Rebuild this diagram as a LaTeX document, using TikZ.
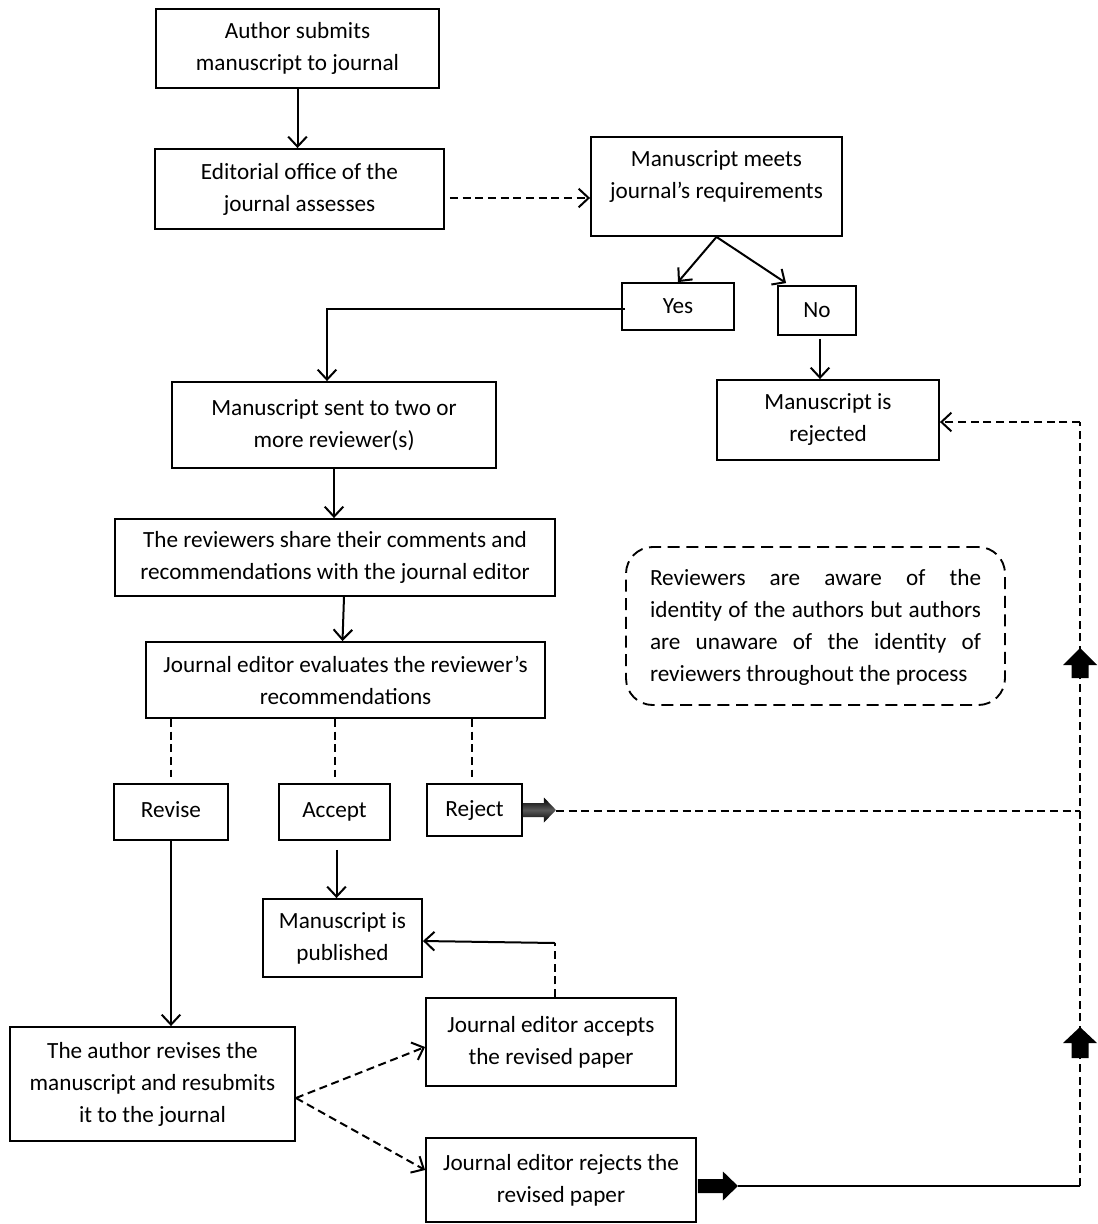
\documentclass[tikz,border=0pt]{standalone}
\usepackage{fontspec}
\setmainfont{Carlito}
\usetikzlibrary{arrows.meta,calc}
\tikzset{
  txt/.style={font=\fontsize{17.4}{24}\selectfont},
  box/.style={draw, line width=1.4pt, rectangle, inner sep=0pt, align=center, txt},
  wh/.style 2 args={minimum width=#1*0.75pt, minimum height=#2*0.75pt},
  arr/.style={line width=1.5pt, -{Straight Barb[length=7.5pt,width=14pt,line width=1.5pt]}},
  darr/.style={arr, dash pattern=on 6pt off 3.5pt},
  dline/.style={line width=1.5pt, dash pattern=on 6pt off 3.5pt},
  sline/.style={line width=1.5pt},
}
\begin{document}
\begin{tikzpicture}[x=0.75pt,y=-0.75pt]
\useasboundingbox (0,0) rectangle (1097,1224);
\fill[white] (0,0) rectangle (1097,1224);
% boxes
\node[box, wh={283}{79}] (a1) at (297.5,48.5) {Author submits\\manuscript to journal};
\node[box, wh={289}{80}] (a2) at (299.5,189) {Editorial office of the\\journal assesses};
\node[box, wh={251}{99}] (a3) at (716.5,186.5) {};
\node[txt, align=center, inner sep=0pt] (a3t) at (716.5,176.5) {Manuscript meets\\journal’s requirements};
\node[box, wh={112}{47}] (yes) at (678,306.5) {Yes};
\node[box, wh={78}{49}] (no) at (817,310.5) {No};
\node[box, wh={324}{86}] (a6) at (334,425) {Manuscript sent to two or\\more reviewer(s)};
\node[box, wh={222}{80}] (rej) at (828,420) {Manuscript is\\rejected};
\node[box, wh={440}{77}] (a8) at (335,557.5) {The reviewers share their comments and\\recommendations with the journal editor};
\node[box, wh={399}{76}] (a9) at (345.5,680) {Journal editor evaluates the reviewer’s\\recommendations};
\node[box, wh={114}{56}] (revise) at (171,812) {\raisebox{3pt}{Revise}};
\node[box, wh={111}{56}] (accept) at (334.5,812) {\raisebox{2pt}{Accept}};
\node[box, wh={95}{52}] (reject) at (474.5,810) {Reject};
\node[box, wh={159}{78}] (pub) at (342.5,938) {Manuscript is\\published};
\node[box, wh={250}{88}] (eacc) at (551,1042) {Journal editor accepts\\the revised paper};
\node[box, wh={285}{114}] (arev) at (152.5,1084) {The author revises the\\manuscript and resubmits\\it to the journal};
\node[box, wh={270}{84}] (erej) at (561,1180) {Journal editor rejects the\\revised paper};
% note
\node[draw, line width=1.4pt, dash pattern=on 9pt off 5pt, rounded corners=20pt,
  wh={379}{158}, inner sep=0pt] (note) at (815.5,626) {};
\node[txt, text width=331*0.75pt, align=justify, inner sep=0pt] (notetext) at (815.5,627)
  {Reviewers are aware of the\linebreak identity of the authors but authors\linebreak are unaware of the identity of\linebreak reviewers throughout the process};
% coordinates
\coordinate (rr) at (1080,811);
\coordinate (rt) at (1080,422);
\coordinate (rb) at (1080,1186);
\coordinate (bend) at (555,943);
% connectors
\draw[arr] (a1.south) -- (a1.south |- a2.north);
\draw[darr] ($(a2.east)+(5,9)$) -- ($(a3.west)+(0,11.5)$);
\draw[arr] (a3.south) -- (yes.north);
\draw[arr] (a3.south) -- ($(no.north west)+(9,-2)$);
\draw[arr] ($(yes.west)+(4,2.5)$) -| ($(a6.north)+(-7,0)$);
\draw[arr] ($(no.south)+(3,3)$) -- ($(no.south |- rej.north)+(3,0)$);
\draw[arr] (a6.south) -- (a6.south |- a8.north);
\draw[arr] ($(a8.south)+(9,0)$) -- ($(a9.north)+(-3,0)$);
\draw[dline, shorten >=4.5pt] (a9.south -| revise.north) -- (revise.north);
\draw[dline, shorten >=4.5pt] (a9.south -| accept.north) -- (accept.north);
\draw[dline, shorten >=4.5pt] ($(a9.south -| reject.north)+(-3,0)$) -- ($(reject.north)+(-3,0)$);
\draw[arr] ($(accept.south)+(2,9)$) -- ($(accept.south |- pub.north)+(2,0)$);
\draw[arr] (revise.south) -- (revise.south |- arev.north);
\draw[dline] (eacc.north -| bend) -- (bend);
\draw[arr] (bend) -- ($(pub.east)+(0,3)$);
\draw[darr] ($(arev.east)+(0,14)$) -- ($(eacc.west)+(0,5)$);
\draw[darr] ($(arev.east)+(0,14)$) -- ($(erej.west)+(0,-10)$);
% right side
\draw[dline] ($(reject.east)+(33,1)$) -- (rr);
\draw[dline] (rb) -- (rt);
\draw[darr] (rt) -- ($(rej.east)+(0,2)$);
\draw[sline] (erej.east |- rb) ++(41,0) -- (rb);
% block arrows
\shade[top color=black, bottom color=black, middle color=black!65]
  ($(reject.east)+(0,-7)$) -- ++(21,0) -- ++(0,-5.5) -- ++(12,12.5) -- ++(-12,12.5) -- ++(0,-5.5) -- ++(-21,0) -- cycle;
\fill[black] ($(erej.east |- rb)+(1,-7)$) -- ++(25,0) -- ++(0,-7.5) -- ++(15,14.5) -- ++(-15,14.5) -- ++(0,-7.5) -- ++(-25,0) -- cycle;
\fill[black] (1071.5,678) -- (1088.5,678) -- (1088.5,665) -- (1097,665) -- (1080,648) -- (1063,665) -- (1071.5,665) -- cycle;
\fill[black] (1071.5,1058) -- (1088.5,1058) -- (1088.5,1043) -- (1097,1043) -- (1080,1027) -- (1063,1043) -- (1071.5,1043) -- cycle;
\end{tikzpicture}
\end{document}
